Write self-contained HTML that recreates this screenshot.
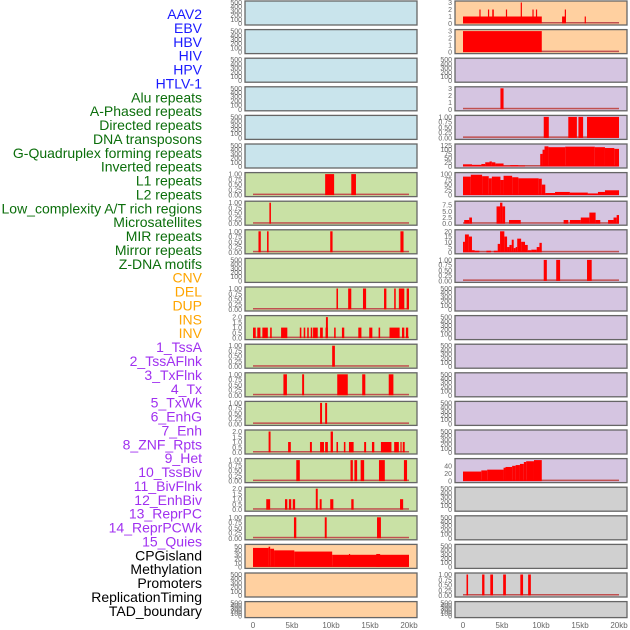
<!DOCTYPE html>
<html><head><meta charset="utf-8">
<style>
html,body{margin:0;padding:0;background:#fff;width:630px;height:630px;overflow:hidden}
svg{display:block}
.lab{font-family:"Liberation Sans",sans-serif;font-size:14px}
.tk{font-family:"Liberation Sans",sans-serif;font-size:7px;fill:#666}
.xt{font-family:"Liberation Sans",sans-serif;font-size:8px;fill:#666}
</style></head>
<body>
<svg id="chart" width="630" height="630" xmlns="http://www.w3.org/2000/svg"></svg>
<script>
// ---------- data ----------
const trackLabels = ["AAV2","EBV","HBV","HIV","HPV","HTLV-1","Alu repeats","A-Phased repeats","Directed repeats","DNA transposons","G-Quadruplex forming repeats","Inverted repeats","L1 repeats","L2 repeats","Low_complexity A/T rich regions","Microsatellites","MIR repeats","Mirror repeats","Z-DNA motifs","CNV","DEL","DUP","INS","INV","1_TssA","2_TssAFlnk","3_TxFlnk","4_Tx","5_TxWk","6_EnhG","7_Enh","8_ZNF_Rpts","9_Het","10_TssBiv","11_BivFlnk","12_EnhBiv","13_ReprPC","14_ReprPCWk","15_Quies","CPGisland","Methylation","Promoters","ReplicationTiming","TAD_boundary"];
const labelGroups = ["virus","virus","virus","virus","virus","virus","rep","rep","rep","rep","rep","rep","rep","rep","rep","rep","rep","rep","rep","sv","sv","sv","sv","sv","chrom","chrom","chrom","chrom","chrom","chrom","chrom","chrom","chrom","chrom","chrom","chrom","chrom","chrom","chrom","other","other","other","other","other"];
const xTickLabels = ["0","5kb","10kb","15kb","20kb"];
const xTickValues = [0,5,10,15,20];
const ticksCount = ["0","100","200","300","400","500"];
const ticksFrac = ["0.00","0.25","0.50","0.75","1.00"];
const ticksTwo = ["0.0","0.5","1.0","1.5","2.0"];
const ticksThree = ["0","1","2","3"];
const ticksCpg = ["0","10","20","30","40","50"];
const ticks125 = ["0","25","50","75","100","125"];
const ticks100 = ["0","25","50","75","100"];
const ticks75 = ["0.0","2.5","5.0","7.5"];
const ticks20 = ["0","5","10","15","20"];
const ticks40 = ["0","20","40"];

// left column panels: [ymax, ticks, bars[start kb, end kb, value]]
const leftYmax = [500,500,500,500,500,500,1,1,1,500,1,2,1,1,1,2,1,2,1,52,500,500];
const leftTicks = [ticksCount,ticksCount,ticksCount,ticksCount,ticksCount,ticksCount,ticksFrac,ticksFrac,ticksFrac,ticksCount,ticksFrac,ticksTwo,ticksFrac,ticksFrac,ticksFrac,ticksTwo,ticksFrac,ticksTwo,ticksFrac,ticksCpg,ticksCount,ticksCount];
const leftBars = [
 [],[],[],[],[],[],
 [[9.25,10.4,1],[12.6,13.2,1]],
 [[2.1,2.3,1]],
 [[0.7,1.0,1],[1.8,2.0,1],[9.9,10.2,1],[18.9,19.3,1]],
 [],
 [[10.7,10.9,1],[12.2,12.6,1],[14.1,14.5,1],[16.8,17.1,1],[18.1,18.3,1],[18.7,19.4,1],[19.7,20.0,1]],
 [[0,0.35,1],[0.55,0.95,1],[1.2,1.9,1],[2.2,2.4,1],[3.6,4.4,1],[6.0,6.2,1],[6.5,6.7,1],[6.95,7.15,1],[7.4,7.6,1],[7.7,8.3,1],[8.6,8.95,1],[9.3,9.6,1],[9.35,9.6,2],[10.4,10.6,1],[11.4,11.7,1],[13.5,13.9,1],[14.9,15.3,1],[16.1,16.3,1],[17.5,18.8,1],[19.1,19.4,1],[19.6,19.9,1]],
 [[10.15,10.5,1]],
 [[3.9,4.35,1],[6.3,6.55,1],[10.8,12.15,1],[14.0,14.4,1],[17.4,18.0,1]],
 [[8.6,8.85,1],[9.25,9.5,1]],
 [[2.0,2.25,2],[4.5,4.85,1],[7.3,7.55,1],[8.6,9.1,1],[9.25,9.6,1],[9.95,10.25,2],[10.7,10.9,1],[11.65,11.85,1],[12.3,12.9,1],[14.25,14.5,1],[15.25,15.55,1],[16.4,17.75,1],[18.1,18.7,1],[18.9,19.05,1],[19.2,19.45,1]],
 [[5.55,6.0,1],[12.5,12.8,1],[13.0,13.35,1],[13.8,14.25,1],[16.15,16.9,1],[19.35,19.75,1]],
 [[1.7,2.2,1],[4.1,4.4,1],[4.6,4.9,1],[5.1,5.4,1],[8.05,8.3,2],[8.55,8.8,1],[9.9,10.3,1],[12.6,12.9,1],[18.85,19.25,1]],
 [[5.25,5.55,1],[9.2,9.45,1],[15.9,16.4,1]],
 [[0,2.0,47],[2.0,2.2,50],[2.2,2.7,45],[2.7,5.3,41],[5.3,10.15,38],[10.15,20,30],[12.3,12.45,32],[15.8,16.3,32]],
 [],[]
];
const rightYmax = [3,3,500,3,1,125,100,8.5,20,1,500,500,500,500,500,500,55,500,500,500,1,500];
const rightTicks = [ticksThree,ticksThree,ticksCount,ticksThree,ticksFrac,ticks125,ticks100,ticks75,ticks20,ticksFrac,ticksCount,ticksCount,ticksCount,ticksCount,ticksCount,ticksCount,ticks40,ticksCount,ticksCount,ticksCount,ticksFrac,ticksCount];
const rightBars = [
 [[0,10.1,1],[2.1,2.25,2],[3.2,3.35,2],[3.75,3.95,2],[5.5,5.65,2],[7.4,7.55,3],[8.9,9.05,2],[9.35,9.5,2],[12.7,13.2,1],[13.05,13.2,2],[15.6,15.7,1]],
 [[0,10.1,3]],
 [],
 [[4.8,5.2,3]],
 [[10.35,11.0,1],[13.5,14.6,1],[14.8,15.4,1],[15.9,20,1]],
 [[0,1.15,13],[1.15,2.35,10],[2.35,2.85,15],[2.85,3.4,25],[3.4,3.7,30],[3.7,4.15,25],[4.15,5.2,18],[5.2,6.05,5],[6.05,7.1,8],[7.1,7.95,5],[9.9,10.2,75],[10.2,10.45,100],[10.45,10.95,120],[10.95,13.1,115],[13.1,16.9,118],[16.9,18.2,115],[18.2,19.4,110],[19.4,20,105]],
 [[0,1.0,88],[1.0,2.45,97],[2.45,3.3,90],[3.3,3.7,80],[3.7,4.8,88],[4.8,5.2,72],[5.2,6.3,92],[6.3,7.1,85],[7.1,9.7,80],[9.7,10.1,78],[10.1,10.55,50],[10.55,11.8,10],[11.8,13.7,15],[13.7,16.0,12],[16.0,17.3,8],[17.3,18.2,15],[18.2,20,23]],
 [[0.15,0.8,1.5],[0.8,1.15,2.5],[4.3,4.75,7],[4.75,5.05,8.5],[5.05,5.4,7],[5.9,7.4,1.5],[12.9,13.5,1.5],[13.7,15.1,1.5],[15.1,16.2,2.5],[16.2,17.0,4.5],[17.0,17.6,1.5],[18.6,19.3,1.5],[19.3,19.7,2.5],[19.7,20,3.5]],
 [[0,0.25,10],[0.25,0.75,17],[0.75,1.15,15],[1.15,1.5,2],[1.5,2.1,1.5],[3.0,3.6,1.5],[3.95,4.45,1.5],[4.45,4.75,8],[4.75,5.3,20],[5.3,5.65,15],[5.65,5.95,5],[5.95,6.25,7],[6.25,6.5,12],[6.5,6.75,4],[6.75,6.95,5],[6.95,7.45,13],[7.45,7.95,10],[7.95,8.3,7],[8.3,8.75,2],[8.75,9.45,2.5],[9.45,9.8,5],[9.8,10.1,9]],
 [[10.35,10.75,1],[11.95,12.45,1],[15.9,16.5,1]],
 [],[],[],[],[],[],
 [[0,2.35,25],[2.35,3.1,28],[3.1,5.2,30],[5.2,5.45,35],[5.45,6.3,37],[6.3,6.75,40],[6.75,7.3,42],[7.3,7.8,45],[7.8,8.1,50],[8.1,9.1,52],[9.1,10.1,55]],
 [],[],[],
 [[0.45,0.65,1],[2.45,2.75,1],[3.5,3.85,1],[5.15,5.5,1],[7.35,7.7,1],[8.35,8.7,1]],
 []
];
const leftColors = ["#c9e4ec","#c9e4ec","#c9e4ec","#c9e4ec","#c9e4ec","#c9e4ec","#c9e1a5","#c9e1a5","#c9e1a5","#c9e1a5","#c9e1a5","#c9e1a5","#c9e1a5","#c9e1a5","#c9e1a5","#c9e1a5","#c9e1a5","#c9e1a5","#c9e1a5","#ffd0a0","#ffd0a0","#ffd0a0"];
const rightColors = ["#ffd0a0","#ffd0a0","#d5c5e1","#d5c5e1","#d5c5e1","#d5c5e1","#d5c5e1","#d5c5e1","#d5c5e1","#d5c5e1","#d5c5e1","#d5c5e1","#d5c5e1","#d5c5e1","#d5c5e1","#d5c5e1","#d5c5e1","#d0d0d0","#d0d0d0","#d0d0d0","#d0d0d0","#d0d0d0"];

// ---------- drawing ----------
const NS = "http://www.w3.org/2000/svg";
const svg = document.getElementById("chart");
const groupColor = {virus:"#1a1aff",rep:"#0b6e0b",sv:"#ffa500",chrom:"#a030f0",other:"#000"};
function mk(tag, attrs){const e=document.createElementNS(NS,tag);for(const k in attrs)e.setAttribute(k,attrs[k]);return e;}

trackLabels.forEach((t,i)=>{
  const e = mk("text",{x:202,y:19+i*13.88,"text-anchor":"end",class:"lab",fill:groupColor[labelGroups[i]]});
  
  
  e.textContent = t;
  svg.appendChild(e);
});

function rowTop(i){return 1+i*28.6;}
function rowH(i){return i===21?16:24;}

function drawColumn(px, colors, ymaxs, ticks, bars, side){
  const x0 = px+8, x1 = px+164;
  const xs = kb => x0 + (x1-x0)*kb/20;
  for(let i=0;i<22;i++){
    const top=rowTop(i), h=rowH(i);
    const g = mk("g",{});
    
    
    const bg = mk("rect",{x:px,y:top,width:172,height:h,fill:colors[i],stroke:"#666","stroke-width":1.3});
    
    
    g.appendChild(bg);
    const yb = top+h-1.5, yt = top+1.5;
    const ymax = ymaxs[i];
    const ys = v => yb - (yb-yt)*Math.min(v,ymax)/ymax;
    const tk = ticks[i];
    tk.forEach(s=>{
      const v = parseFloat(s);
      const t = mk("text",{x:px-3,y:ys(v)+2.5,"text-anchor":"end",class:"tk"});
      
      
      t.textContent = s;
      g.appendChild(t);
    });
    if(bars[i].length){
      const base = mk("rect",{x:xs(0),y:yb-1.5,width:xs(20)-xs(0),height:1.5,fill:"#c05050"});
      
      
      g.appendChild(base);
    }
    bars[i].forEach(b=>{
      const r = mk("rect",{x:xs(b[0]),y:ys(b[2]),width:Math.max(1.2,xs(b[1])-xs(b[0])),height:yb-ys(b[2]),fill:"#ff0000"});
      
      
      g.appendChild(r);
    });
    svg.appendChild(g);
  }
  xTickValues.forEach((v,k)=>{
    const t = mk("text",{x:xs(v),y:628,"text-anchor":"middle",class:"xt"});
    
    
    t.textContent = xTickLabels[k];
    svg.appendChild(t);
  });
}
drawColumn(245, leftColors, leftYmax, leftTicks, leftBars, "left");
drawColumn(455, rightColors, rightYmax, rightTicks, rightBars, "right");
</script>
</body></html>
